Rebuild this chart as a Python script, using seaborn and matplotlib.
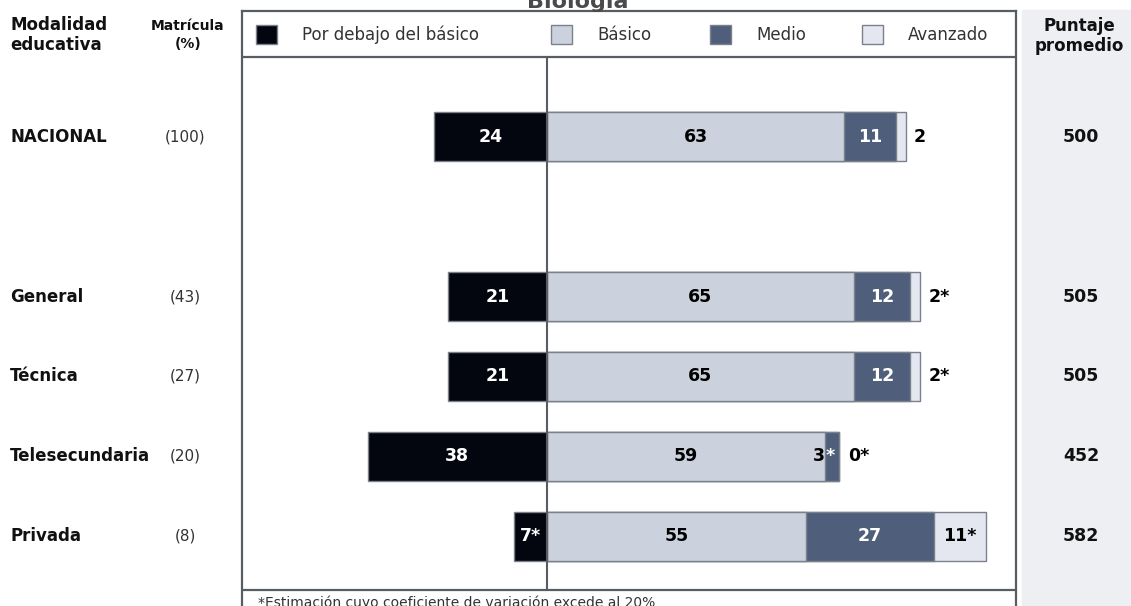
import pandas as pd
import matplotlib.pyplot as plt
import seaborn as sns
from matplotlib.patches import Rectangle
from matplotlib.transforms import Affine2D, blended_transform_factory

sns.set_style('white')
plt.rcParams['font.family'] = ['DejaVu Sans']

# datos
modalidades = ['NACIONAL', 'General', 'Técnica', 'Telesecundaria', 'Privada']
matricula = ['(100)', '(43)', '(27)', '(20)', '(8)']
posiciones = [0, 2, 3, 4, 5]
debajo = [24, 21, 21, 38, 7]
basico = [63, 65, 65, 59, 55]
medio = [11, 12, 12, 3, 27]
avanzado = [2, 2, 2, 0, 11]
marca_debajo = ['', '', '', '', '*']
marca_medio = ['', '', '', '*', '']
marca_avanzado = ['', '*', '*', '*', '*']
puntaje = [500, 505, 505, 452, 582]

niveles = ['Por debajo del básico', 'Básico', 'Medio', 'Avanzado']
colores = ['#03050f', '#ccd2dd', '#4f5f7b', '#e4e7ef']
EDGE = '#7a808c'
LINEA = '#585c63'

W, H = 1131, 606
fig = plt.figure(figsize=(W / 100, H / 100), dpi=100)
# transform in pixels from the top-left corner
px = Affine2D().scale(1 / W, -1 / H).translate(0, 1) + fig.transFigure

# right grey column
fig.add_artist(Rectangle((1022, 10), 109, 600, transform=px, color='#eeeff3', zorder=0))

ax = fig.add_axes([242 / W, 0, (1016 - 242) / W, 595 / H])

df = pd.DataFrame({'pos': posiciones, 'debajo': debajo, 'basico': basico,
                   'medio': medio, 'avanzado': avanzado})
df['neg'] = -df['debajo']
df['hasta_medio'] = df['basico'] + df['medio']
df['total'] = df['hasta_medio'] + df['avanzado']

# stacked bars drawn from the longest to the shortest
for col, color in [('total', colores[3]), ('hasta_medio', colores[2]),
                   ('basico', colores[1]), ('neg', colores[0])]:
    sns.barplot(data=df, x=col, y='pos', orient='y', native_scale=True, width=0.61,
                color=color, saturation=1, edgecolor=EDGE, linewidth=1,
                errorbar=None, ax=ax)

y_top, y_bot = -1.569, 5.869
y_leyenda, y_nota = -0.994, 5.669
ax.set_xlim(-64.6, 99.4)
ax.set_ylim(y_bot, y_top)
ax.set_xticks([])
ax.set_yticks([])
ax.set_xlabel('')
ax.set_ylabel('')
for s in ['top', 'left', 'right']:
    ax.spines[s].set_color(LINEA)
    ax.spines[s].set_linewidth(1.6)
ax.spines['bottom'].set_visible(False)
ax.axhline(y_leyenda, color=LINEA, lw=1.6)
ax.axhline(y_nota, color=LINEA, lw=1.6)
ax.vlines(0, y_leyenda, y_nota, color=LINEA, lw=1.5, zorder=1)

# bar labels
lab = dict(fontsize=12.5, fontweight='bold', va='center')
for i, p in enumerate(posiciones):
    d, b, m, a = debajo[i], basico[i], medio[i], avanzado[i]
    ax.text(-d / 2, p, f'{d}{marca_debajo[i]}', ha='center', color='white', **lab)
    ax.text(b / 2, p, f'{b}', ha='center', color='black', **lab)
    if m >= 5:
        ax.text(b + m / 2, p, f'{m}{marca_medio[i]}', ha='center', color='white', **lab)
    else:
        ax.text(b, p, f'{m}', ha='right', color='black', **lab)
        ax.text(b, p, marca_medio[i], ha='left', color='white', **lab)
    if a >= 8:
        ax.text(b + m + a / 2, p, f'{a}{marca_avanzado[i]}', ha='center', color='black', **lab)
    else:
        ax.text(b + m + a + 1.8, p, f'{a}{marca_avanzado[i]}', ha='left', color='black', **lab)

# left and right columns
row = blended_transform_factory(px, ax.transData)
for i, p in enumerate(posiciones):
    fig.text(10, p, modalidades[i], transform=row, ha='left', va='center',
             fontsize=12, fontweight='bold', color='#111111')
    fig.text(185, p, matricula[i], transform=row, ha='center', va='center',
             fontsize=11, color='#333333')
    fig.text(1081, p, str(puntaje[i]), transform=row, ha='center', va='center',
             fontsize=12.5, fontweight='bold', color='#111111')

fig.text(10, 35, 'Modalidad\neducativa', transform=px, ha='left', va='center',
         fontsize=12, fontweight='bold', color='#111111', linespacing=1.15)
fig.text(188, 35, 'Matrícula\n(%)', transform=px, ha='center', va='center',
         fontsize=10, fontweight='bold', color='#111111', linespacing=1.3)
fig.text(1079, 36, 'Puntaje\npromedio', transform=px, ha='center', va='center',
         fontsize=12, fontweight='bold', color='#111111', linespacing=1.2)

# legend
leg_x = [256, 551, 710, 862]
for x, nombre, color in zip(leg_x, niveles, colores):
    fig.add_artist(Rectangle((x, 25), 21, 19, transform=px, facecolor=color,
                             edgecolor=EDGE, lw=1))
    fig.text(x + 46, 35, nombre, transform=px, ha='left', va='center',
             fontsize=12, color='#333333')

fig.text(578, 8, 'Biología', transform=px, ha='center', va='baseline',
         fontsize=16, fontweight='bold', color='#4a4a4a')
fig.text(258, 595, '*Estimación cuyo coeficiente de variación excede al 20%',
         transform=px, ha='left', va='top', fontsize=10, color='#333333')

fig.savefig('out.png', dpi=100)
